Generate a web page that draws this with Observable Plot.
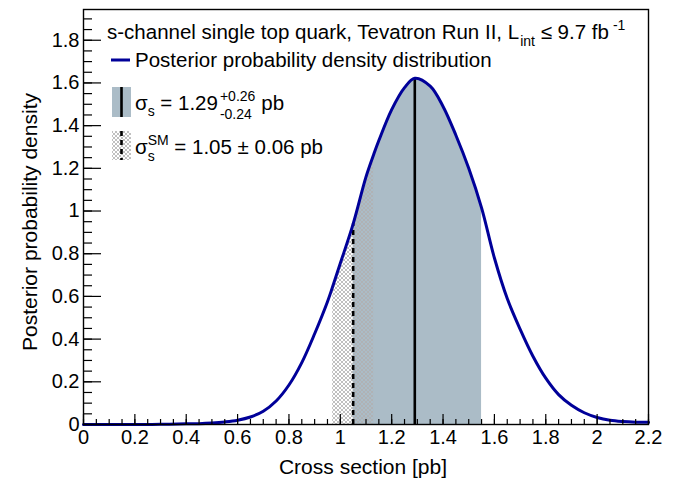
<!DOCTYPE html>
<html>
<head>
<meta charset="utf-8">
<script src="https://cdn.jsdelivr.net/npm/d3@7"></script>
<script src="https://cdn.jsdelivr.net/npm/@observablehq/plot@0.6"></script>
<style>
  html, body { margin: 0; padding: 0; background: #fff; }
  #chart { width: 683px; height: 483px; }
  svg { font-family: "Liberation Sans", Arial, Helvetica, sans-serif; }
</style>
</head>
<body>
<div id="chart"></div>
<script>
// Cross section values (pb) and posterior density
const xValues = [0, 0.1, 0.2, 0.3, 0.4, 0.45, 0.5, 0.55, 0.6, 0.65, 0.7, 0.75, 0.8, 0.85, 0.9, 0.95, 0.97, 1.0, 1.05, 1.1, 1.13, 1.15, 1.2, 1.25, 1.29, 1.35, 1.4, 1.45, 1.5, 1.55, 1.6, 1.65, 1.7, 1.75, 1.8, 1.85, 1.9, 1.95, 2.0, 2.05, 2.1, 2.15, 2.2];
const density = [0, 0, 0, 0.001, 0.003, 0.004, 0.007, 0.012, 0.02, 0.035, 0.062, 0.11, 0.185, 0.29, 0.425, 0.575, 0.645, 0.755, 0.94, 1.16, 1.265, 1.33, 1.475, 1.578, 1.622, 1.585, 1.49, 1.355, 1.2, 1.015, 0.78, 0.59, 0.447, 0.32, 0.217, 0.14, 0.09, 0.055, 0.033, 0.02, 0.014, 0.011, 0.01];

// Measurement and SM prediction
const measured = 1.29, measUp = 0.26, measDown = 0.24;
const smValue = 1.05, smBandLow = 0.97, smBandHigh = 1.13;

// Axis ticks
const xMajor = [0, 0.2, 0.4, 0.6, 0.8, 1, 1.2, 1.4, 1.6, 1.8, 2, 2.2];
const xMinor = d3.range(0, 45).map(i => +(i * 0.05).toFixed(2));
const yMajor = [0, 0.2, 0.4, 0.6, 0.8, 1, 1.2, 1.4, 1.6, 1.8];
const yMinor = d3.range(0, 39).map(i => +(i * 0.05).toFixed(2));

const data = xValues.map((x, i) => ({x, y: density[i]}));
const valAt = x => data.find(d => Math.abs(d.x - x) < 1e-9).y;
const lo = +(measured - measDown).toFixed(2), hi = +(measured + measUp).toFixed(2);
const shade = data.filter(d => d.x >= lo - 1e-9 && d.x <= hi + 1e-9);
const hatch = data.filter(d => d.x >= smBandLow - 1e-9 && d.x <= smBandHigh + 1e-9);
const curve = "catmull-rom";
const fmt = d => d === 0 ? "0" : d3.format("~g")(d);

const plot = Plot.plot({
  width: 683,
  height: 483,
  marginLeft: 83,
  marginRight: 35,
  marginTop: 9,
  marginBottom: 59,
  style: {fontFamily: '"Liberation Sans", Arial, Helvetica, sans-serif', fontSize: "20px", color: "#000", background: "#fff"},
  x: {domain: [0, 2.2], label: null},
  y: {domain: [0, 1.944], label: null},
  marks: [
    Plot.areaY(shade, {x: "x", y: "y", fill: "#abbcc7", curve}),
    Plot.areaY(hatch, {x: "x", y: "y", fill: "url(#hatchPat)", curve}),
    Plot.ruleX([measured], {x: d => d, y1: 0, y2: valAt(measured), stroke: "#000", strokeWidth: 2.6}),
    Plot.ruleX([smValue], {x: d => d, y1: 0, y2: valAt(smValue), stroke: "#000", strokeWidth: 2.6, strokeDasharray: "5,4"}),
    Plot.line(data, {x: "x", y: "y", stroke: "#000099", strokeWidth: 3, curve}),
    Plot.frame({stroke: "#000", strokeWidth: 1.4}),
    Plot.axisX(xMinor, {tickSize: -5, tickFormat: () => "", stroke: "#000", strokeWidth: 1.2}),
    Plot.axisX(xMajor, {tickSize: -10, tickFormat: () => "", stroke: "#000", strokeWidth: 1.2}),
    Plot.axisX(xMajor, {tickSize: 0, tickPadding: 5, tickFormat: fmt, fontSize: 20, fill: "#000"}),
    Plot.axisY(yMinor, {tickSize: -9, tickFormat: () => "", stroke: "#000", strokeWidth: 1.2}),
    Plot.axisY(yMajor, {tickSize: -18, tickFormat: () => "", stroke: "#000", strokeWidth: 1.2}),
    Plot.axisY(yMajor, {tickSize: 0, tickPadding: 4, tickFormat: fmt, fontSize: 20, fill: "#000"})
  ]
});

document.getElementById("chart").appendChild(plot);

const svg = d3.select(plot);
const defs = svg.insert("defs", ":first-child");
const pat = defs.append("pattern").attr("id", "hatchPat").attr("patternUnits", "userSpaceOnUse")
  .attr("width", 4).attr("height", 4);
pat.append("path").attr("d", "M0,0L4,4M4,0L0,4M-1,3L1,5M3,-1L5,1M-1,1L1,-1M3,5L5,3")
  .attr("stroke", "#b0b0b0").attr("stroke-width", 0.8);

const font = '"Liberation Sans", Arial, Helvetica, sans-serif';
const g = svg.append("g").attr("font-family", font).attr("fill", "#000").attr("text-anchor", "start");
const FS = 20.5, SFS = 14;

// Axis titles
g.append("text").attr("x", 363).attr("y", 474).attr("text-anchor", "middle").attr("font-size", 21)
  .text("Cross section [pb]");
g.append("text").attr("transform", "translate(37,222) rotate(-90)").attr("text-anchor", "middle").attr("font-size", 21)
  .text("Posterior probability density");

const txt = (x, y, s, size = FS) => g.append("text").attr("x", x).attr("y", y).attr("font-size", size).text(s);
const w = sel => sel.node().getComputedTextLength();

// Legend header
let a = txt(107, 39, "s-channel single top quark, Tevatron Run II, L");
let x = 107 + w(a);
let b = txt(x + 1, 46, "int", SFS);
x += 1 + w(b);
let c = txt(x, 39, " \u2264 9.7 fb");
x += w(c);
txt(x + 4, 30, "-1", SFS);

// Posterior line entry
g.append("line").attr("x1", 111).attr("x2", 130).attr("y1", 60).attr("y2", 60)
  .attr("stroke", "#000099").attr("stroke-width", 3);
txt(135, 67, "Posterior probability density distribution");

// Measured entry
g.append("rect").attr("x", 112).attr("y", 87).attr("width", 19).attr("height", 30).attr("fill", "#abbcc7");
g.append("line").attr("x1", 121.5).attr("x2", 121.5).attr("y1", 87).attr("y2", 117).attr("stroke", "#000").attr("stroke-width", 2.6);
a = txt(135, 110, "\u03c3");
x = 135 + w(a);
b = txt(x, 116, "s", SFS);
x += w(b);
c = txt(x, 110, " = 1.29");
x += w(c) + 2;
const sp = txt(x, 101, "+0.26", SFS);
txt(x, 119, "-0.24", SFS);
txt(x + w(sp) + 6, 110, "pb");

// SM entry
g.append("rect").attr("x", 112).attr("y", 131).attr("width", 19).attr("height", 29).attr("fill", "url(#hatchPat)");
g.append("line").attr("x1", 121.5).attr("x2", 121.5).attr("y1", 131).attr("y2", 160).attr("stroke", "#000")
  .attr("stroke-width", 2.6).attr("stroke-dasharray", "5,4");
a = txt(135, 154, "\u03c3");
x = 135 + w(a);
b = txt(x, 161, "s", SFS);
const sm = txt(x, 145, "SM", SFS);
x += Math.max(w(b), w(sm));
txt(x, 154, " = 1.05 \u00b1 0.06 pb");
</script>
</body>
</html>
